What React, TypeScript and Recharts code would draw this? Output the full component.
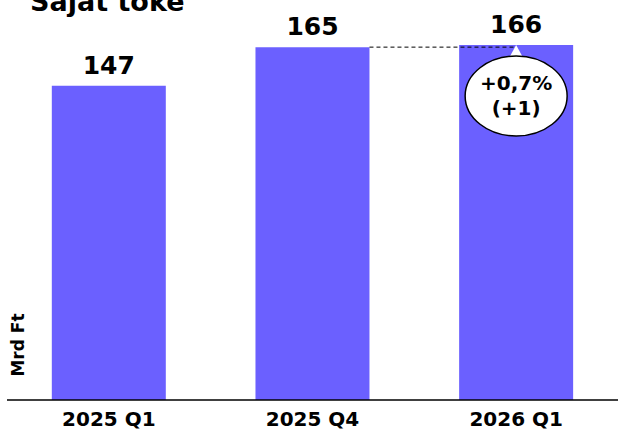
import { BarChart, Bar, XAxis, YAxis, LabelList } from 'recharts';

const CATEGORIES = ['2025 Q1', '2025 Q4', '2026 Q1'];
const VALUES = [147, 165, 166];
const CHANGE_PCT = '+0,7%';
const CHANGE_ABS = '(+1)';
const TITLE = 'Saját tőke';
const UNIT = 'Mrd Ft';

const BAR_COLOR = '#6B60FF';
const FONT = '"DejaVu Sans", Verdana, sans-serif';
const GAP = 0.22;

const data = CATEGORIES.map((name, i) => ({ name, value: VALUES[i] }));

function ValueLabel(props: any) {
  const vb = props.viewBox ?? props;
  const { x, y, width } = vb;
  const { value, index } = props;
  const cx = x + width / 2;
  const band = width / (1 - 2 * GAP);
  return (
    <g>
      {index === 1 && (
        <line x1={x + width} y1={y} x2={cx + band} y2={y} stroke="#000" strokeWidth={1} strokeDasharray="4 3" />
      )}
      {index === 2 && (
        <g>
          <polygon points={`${cx},${y} ${cx - 6},${y + 11} ${cx + 6},${y + 11}`} fill="#fff" />
          <ellipse cx={cx} cy={y + 51} rx={51} ry={40} fill="#fff" stroke="#000" strokeWidth={1.5} />
          <text x={cx} y={y + 45} textAnchor="middle" fontFamily={FONT} fontWeight="bold" fontSize={20} fill="#000">
            {CHANGE_PCT}
          </text>
          <text x={cx} y={y + 70} textAnchor="middle" fontFamily={FONT} fontWeight="bold" fontSize={20} fill="#000">
            {CHANGE_ABS}
          </text>
        </g>
      )}
      <text x={cx} y={y - 12} textAnchor="middle" fontFamily={FONT} fontWeight="bold" fontSize={25} fill="#000">
        {value}
      </text>
    </g>
  );
}

function CategoryTick(props: any) {
  const { x, y, payload } = props;
  return (
    <text x={x} y={y + 26} textAnchor="middle" fontFamily={FONT} fontWeight="bold" fontSize={20} fill="#000">
      {payload.value}
    </text>
  );
}

export default function App() {
  return (
    <div style={{ position: 'absolute', left: 0, top: 0, width: 618, height: 432, background: '#fff' }}>
      <BarChart
        width={618}
        height={432}
        data={data}
        margin={{ top: 45, right: 0, left: 7, bottom: 0 }}
        barCategoryGap={`${GAP * 100}%`}
      >
        <XAxis
          dataKey="name"
          height={32}
          axisLine={{ stroke: '#000', strokeWidth: 1.5 }}
          tickLine={false}
          tickSize={0}
          tickMargin={0}
          tick={<CategoryTick />}
        />
        <YAxis hide domain={[0, 'dataMax']} />
        <Bar dataKey="value" fill={BAR_COLOR} isAnimationActive={false}>
          <LabelList dataKey="value" content={<ValueLabel />} />
        </Bar>
      </BarChart>
      <svg width={618} height={432} style={{ position: 'absolute', left: 0, top: 0, pointerEvents: 'none' }}>
        <text x={30} y={11} fontFamily={FONT} fontWeight="bold" fontSize={27} fill="#000">
          {TITLE}
        </text>
        <text
          x={18}
          y={345}
          transform="rotate(-90 18 345)"
          textAnchor="middle"
          dominantBaseline="central"
          fontFamily={FONT}
          fontWeight="bold"
          fontSize={17}
          fill="#000"
        >
          {UNIT}
        </text>
      </svg>
    </div>
  );
}
